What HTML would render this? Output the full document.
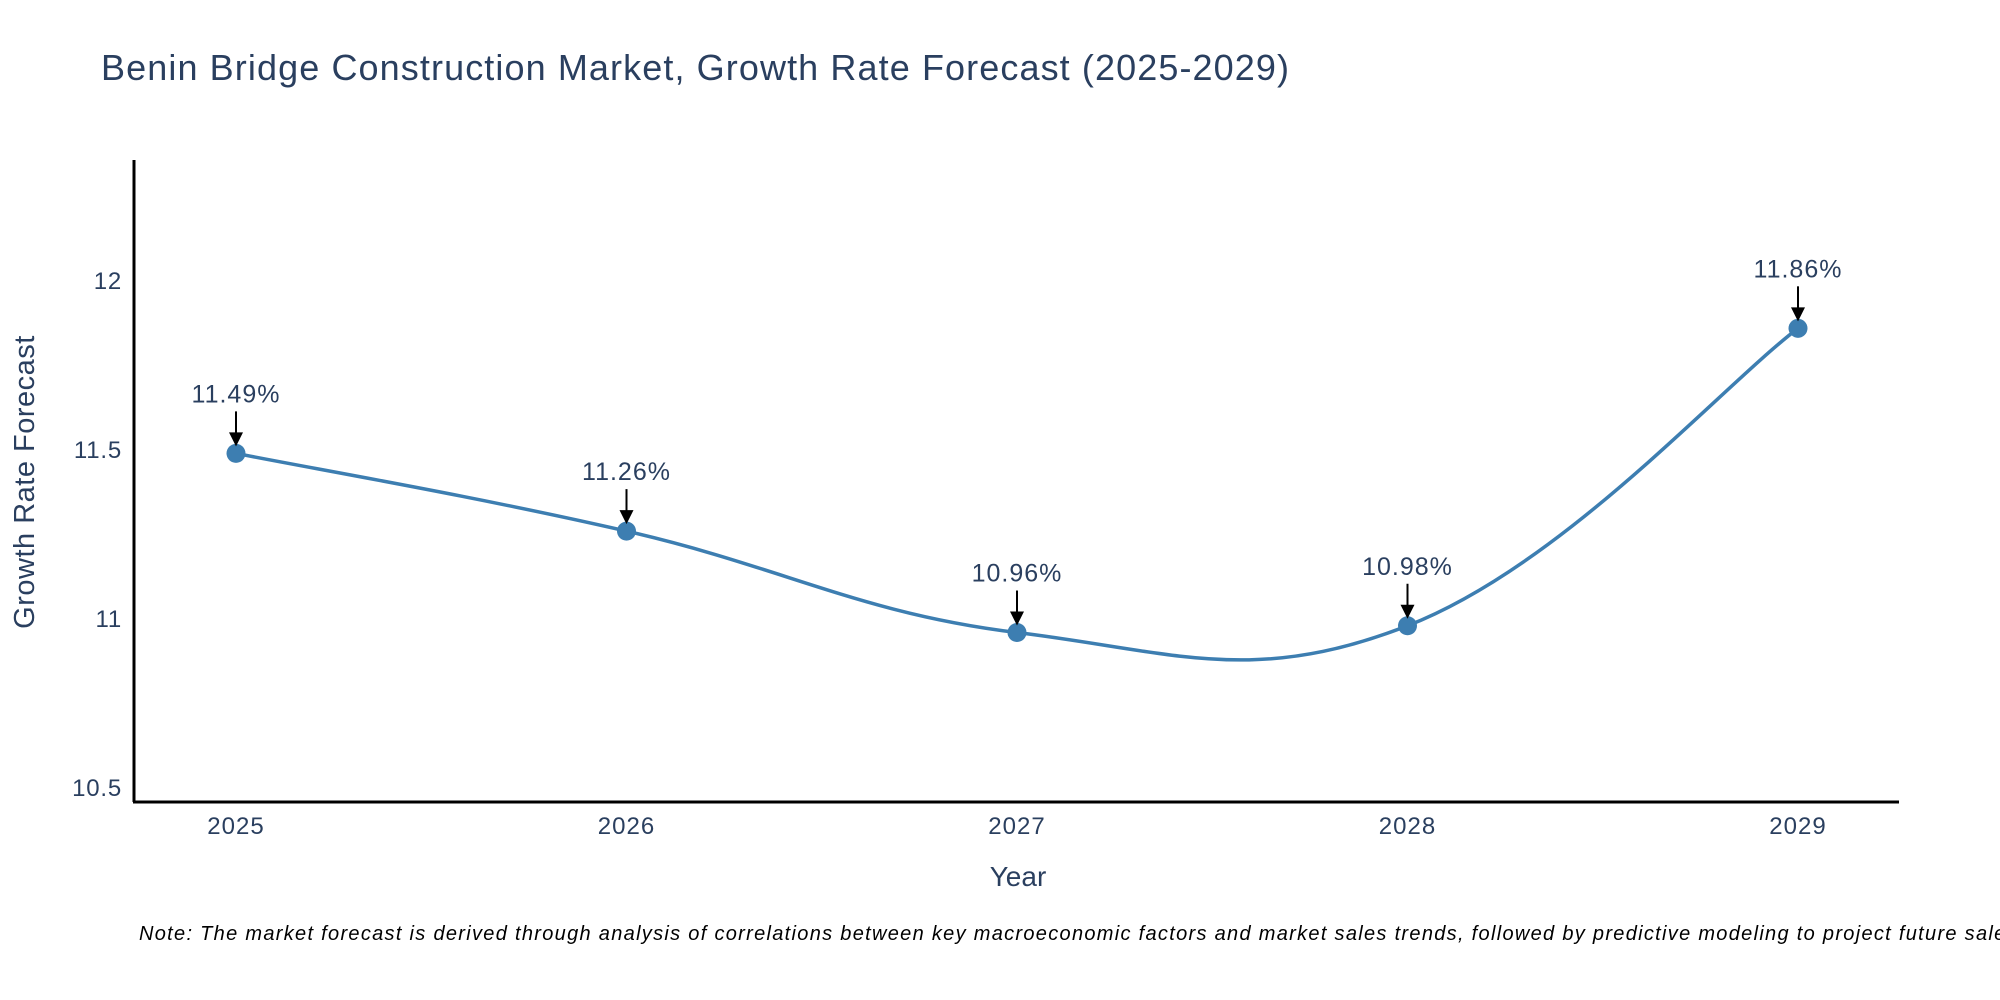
<!DOCTYPE html>
<html><head><meta charset="utf-8"><style>
body{margin:0;background:#fff;}
svg{display:block;font-family:"Liberation Sans",sans-serif;}
</style></head><body>
<svg id="chart" width="2000" height="1000" viewBox="0 0 2000 1000">
<text x="101" y="80" font-size="36" letter-spacing="1.1" fill="#2a3f5f">Benin Bridge Construction Market, Growth Rate Forecast (2025-2029)</text>
<g id="yticks"></g>
<g id="xticks"></g>
<text transform="translate(34,482) rotate(-90)" text-anchor="middle" font-size="29" letter-spacing="0.5" fill="#2a3f5f">Growth Rate Forecast</text>
<text x="1018" y="886" text-anchor="middle" font-size="28" fill="#2a3f5f">Year</text>
<path id="line" fill="none" stroke="#3d7eb1" stroke-width="3.5"/>
<g id="marks"></g>
<line x1="134" y1="160" x2="134" y2="802" stroke="#000" stroke-width="3"/>
<line x1="133" y1="802" x2="1899" y2="802" stroke="#000" stroke-width="3"/>
<text x="139" y="940" font-size="20" letter-spacing="1.3" font-style="italic" fill="#000">Note: The market forecast is derived through analysis of correlations between key macroeconomic factors and market sales trends, followed by predictive modeling to project future sales.</text>
</svg>
<script>
const years=[2025,2026,2027,2028,2029];
const values=[11.49,11.26,10.96,10.98,11.86];
const labels=["11.49%","11.26%","10.96%","10.98%","11.86%"];
const yTickVals=[10.5,11,11.5,12];
const yTickLabels=["10.5","11","11.5","12"];
const NS="http://www.w3.org/2000/svg";
function xs(v){return 236+(v-2025)*390.5;}
function ys(v){return 619-(v-11)*338;}
function mk(tag,attrs,parent){const e=document.createElementNS(NS,tag);for(const k in attrs)e.setAttribute(k,attrs[k]);parent.appendChild(e);return e;}
const yt=document.getElementById('yticks');
yTickVals.forEach((v,i)=>{
  const t=mk('text',{x:122,y:ys(v)+8,'text-anchor':'end','font-size':24,'letter-spacing':0.8,fill:'#2a3f5f'},yt);
  t.textContent=yTickLabels[i];
  
  
});
const xt=document.getElementById('xticks');
years.forEach(y=>{
  const t=mk('text',{x:xs(y),y:834,'text-anchor':'middle','font-size':24,'letter-spacing':1,fill:'#2a3f5f'},xt);
  t.textContent=String(y);
  
  
});
const P=years.map((y,i)=>[xs(y),ys(values[i])]);
let d='M'+P[0][0]+','+P[0][1];
const s=0.2;
for(let i=0;i<P.length-1;i++){
  const p0=P[Math.max(i-1,0)],p1=P[i],p2=P[i+1],p3=P[Math.min(i+2,P.length-1)];
  const c1=[p1[0]+(p2[0]-p0[0])*s,p1[1]+(p2[1]-p0[1])*s];
  const c2=[p2[0]-(p3[0]-p1[0])*s,p2[1]-(p3[1]-p1[1])*s];
  d+=` C${c1[0]},${c1[1]} ${c2[0]},${c2[1]} ${p2[0]},${p2[1]}`;
}
document.getElementById('line').setAttribute('d',d);
const g=document.getElementById('marks');
P.forEach((p,i)=>{
  const c=mk('circle',{cx:p[0],cy:p[1],r:9.5,fill:'#3d7eb1'},g);
  
  
  const l=mk('line',{x1:p[0],y1:p[1]-42,x2:p[0],y2:p[1]-20,stroke:'#000','stroke-width':2},g);
  
  
  const a=mk('polygon',{points:`${p[0]-7},${p[1]-21} ${p[0]+7},${p[1]-21} ${p[0]},${p[1]-7}`,fill:'#000'},g);
  
  
  const t=mk('text',{x:p[0],y:p[1]-51,'text-anchor':'middle','font-size':25,'letter-spacing':1,fill:'#2a3f5f'},g);
  t.textContent=labels[i];
  
  
});
</script>
</body></html>
